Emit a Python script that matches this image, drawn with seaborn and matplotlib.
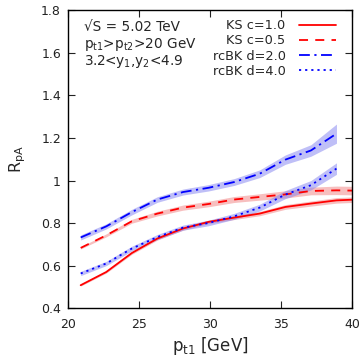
import matplotlib
matplotlib.use("Agg")
import matplotlib.pyplot as plt
import seaborn as sns
import pandas as pd
import numpy as np

# ---- data ----
pt_ks = [20.9, 22.7, 24.5, 26.3, 28.1, 29.9, 31.7, 33.5, 35.3, 37.1, 38.9, 40.7]
ks_c10 = [0.509, 0.571, 0.660, 0.728, 0.775, 0.806, 0.826, 0.845, 0.876, 0.892, 0.907, 0.912]
ks_c10_err = [0.004, 0.005, 0.006, 0.007, 0.008, 0.008, 0.009, 0.010, 0.011, 0.012, 0.013, 0.013]
ks_c05 = [0.684, 0.743, 0.809, 0.845, 0.873, 0.890, 0.911, 0.923, 0.935, 0.951, 0.954, 0.952]
ks_c05_err = [0.005, 0.007, 0.009, 0.011, 0.012, 0.013, 0.014, 0.015, 0.017, 0.018, 0.020, 0.020]

pt_bk = [20.9, 22.7, 24.5, 26.3, 28.1, 29.9, 31.7, 33.5, 35.3, 37.1, 38.9]
bk_d20 = [0.733, 0.785, 0.852, 0.911, 0.946, 0.966, 0.993, 1.032, 1.098, 1.141, 1.220]
bk_d20_err = [0.012, 0.012, 0.013, 0.013, 0.014, 0.015, 0.016, 0.018, 0.022, 0.027, 0.045]
bk_d40 = [0.564, 0.611, 0.681, 0.735, 0.779, 0.801, 0.832, 0.873, 0.934, 0.978, 1.056]
bk_d40_err = [0.010, 0.010, 0.011, 0.012, 0.012, 0.013, 0.014, 0.016, 0.019, 0.022, 0.027]

labels = ["KS c=1.0", "KS c=0.5", "rcBK d=2.0", "rcBK d=4.0"]
xticks = [20, 25, 30, 35, 40]
yticks = [0.4, 0.6, 0.8, 1.0, 1.2, 1.4, 1.6, 1.8]
ytick_labels = ["0.4", "0.6", "0.8", "1", "1.2", "1.4", "1.6", "1.8"]

sns.set_style("ticks")
plt.rcParams['font.family'] = ['DejaVu Sans']

series = [
    (labels[0], pt_ks, ks_c10, ks_c10_err, "#ff0000", "-", "#f08080"),
    (labels[1], pt_ks, ks_c05, ks_c05_err, "#ff0000", (0, (5, 4)), "#f08080"),
    (labels[2], pt_bk, bk_d20, bk_d20_err, "#0000ff", (0, (6, 2.5, 1.2, 2.5)), "#8080f0"),
    (labels[3], pt_bk, bk_d40, bk_d40_err, "#0000ff", (0, (1.2, 2.2)), "#8080f0"),
]

rows = []
for lab, xs, ys, es, *_ in series:
    for xv, yv, ev in zip(xs, ys, es):
        rows.append({"pt": xv, "R": yv, "err": ev, "model": lab})
df = pd.DataFrame(rows)

fig = plt.figure(figsize=(3.63, 3.57), dpi=100)
ax = fig.add_axes([0.187, 0.136, 0.783, 0.836])

for lab, xs, ys, es, col, ls, bcol in series:
    sub = df[df.model == lab]
    ax.fill_between(sub.pt, sub.R - sub.err, sub.R + sub.err, color=bcol, alpha=0.5, lw=0)
for lab, xs, ys, es, col, ls, bcol in series:
    sub = df[df.model == lab]
    sns.lineplot(data=sub, x="pt", y="R", ax=ax, color=col, lw=1.3, linestyle=ls,
                 label=lab, estimator=None, sort=False)

ax.set_xlim(20, 40)
ax.set_ylim(0.4, 1.8)
ax.set_xticks(xticks)
ax.set_yticks(yticks)
ax.set_yticklabels(ytick_labels)
ax.tick_params(direction="in", top=True, right=True, length=5, width=0.8,
               labelsize=9, colors="#222222")
ax.tick_params(axis="x", pad=7)
ax.tick_params(axis="y", pad=5)
for sp in ax.spines.values():
    sp.set_linewidth(1.0)
    sp.set_color("black")
ax.set_xlabel("p$_{\\mathregular{t1}}$ [GeV]", fontsize=12, labelpad=3)
ax.set_ylabel("R$_{\\mathregular{pA}}$", fontsize=11.5, labelpad=9)

leg = ax.legend(loc="upper right", frameon=False, markerfirst=False, fontsize=9.3,
                handlelength=2.9, handletextpad=1.0, labelspacing=0.18,
                borderaxespad=0.3, bbox_to_anchor=(0.975, 1.0))

ax.text(0.055, 0.967, "√S = 5.02 TeV", transform=ax.transAxes, fontsize=9.8, va="top")
ax.text(0.055, 0.912, "p$_{\\mathregular{t1}}$>p$_{\\mathregular{t2}}$>20 GeV",
        transform=ax.transAxes, fontsize=9.8, va="top")
ax.text(0.055, 0.857, "3.2<y$_{\\mathregular{1}}$,y$_{\\mathregular{2}}$<4.9",
        transform=ax.transAxes, fontsize=9.8, va="top")

fig.savefig("out.png", dpi=100)
